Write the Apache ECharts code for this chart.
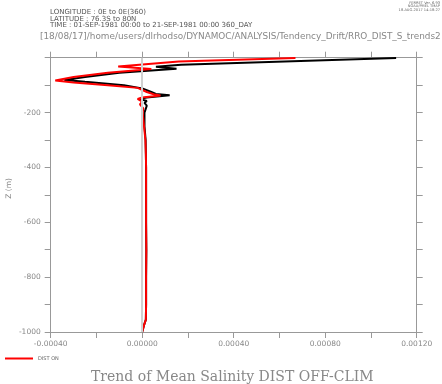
<!DOCTYPE html>
<html>
<head>
<meta charset="utf-8">
<script src="https://cdn.jsdelivr.net/npm/echarts@6/dist/echarts.min.js"></script>
<style>html,body{margin:0;padding:0;background:#fff}#c{width:442px;height:384px}</style>
</head>
<body>
<div id="c"></div>
<script>
// Depth levels (m) and trend values for each run
const depthOff = [-1, -26, -33, -40, -55, -70, -81, -88, -100, -112, -125, -132, -137, -145, -150, -158, -165, -175, -200, -250, -300, -350, -400, -500, -600, -700, -800, -900, -955, -975, -1000];
const distOff  = [0.00111, 0.00017, 0.00006, 0.00015, -0.00010, -0.00025, -0.00034, -0.00025, -0.00008, 0.00000, 0.00004, 0.00006, 0.00012, 0.00002, -0.00001, 0.00002, 0.00001, 0.00002, 0.00001, 0.00001, 0.000015, 0.000016, 0.000017, 0.000017, 0.000017, 0.000018, 0.000017, 0.000017, 0.000016, 0.000008, 0.00000];
const depthOn  = [-1, -14, -32, -41, -55, -70, -83, -90, -100, -110, -125, -133, -138, -145, -150, -160, -170, -185, -200, -250, -300, -350, -400, -500, -600, -700, -800, -900, -955, -975, -1000];
const distOn   = [0.00067, 0.00016, -0.000105, 0.00004, -0.00015, -0.00030, -0.00038, -0.00030, -0.00015, -0.00002, 0.00002, 0.00005, 0.00008, 0.00000, -0.00002, 0.00000, -0.00001, 0.000005, 0.000002, 0.000008, 0.000014, 0.000016, 0.000017, 0.000017, 0.000017, 0.000018, 0.000017, 0.000017, 0.000016, 0.000008, 0.00000];
const xTicks = [-0.0004, 0.0000, 0.0004, 0.0008, 0.0012];
const yTicks = [-1000, -800, -600, -400, -200, 0];
const headerLines = ['LONGITUDE : 0E to 0E(360)', 'LATITUDE : 76.3S to 80N', 'TIME : 01-SEP-1981 00:00 to 21-SEP-1981 00:00 360_DAY'];
const pathLine = '[18/08/17]/home/users/dlrhodso/DYNAMOC/ANALYSIS/Tendency_Drift/RRO_DIST_S_trends2';
const stampLines = ['FERRET Ver. 6.93', 'NOAA/PMEL TMAP', '18-AUG-2017 14:18:27'];
const titleText = 'Trend of Mean Salinity DIST OFF-CLIM';

const chart = echarts.init(document.getElementById('c'), null, {renderer: 'canvas'});
const axisGray = '#999';
const txtGray = '#888';
const pair = (xs, ys) => xs.map((v, i) => [v, ys[i]]);

const xBase = {
  type: 'value', min: xTicks[0], max: xTicks[xTicks.length - 1], interval: 0.0004,
  axisLine: {show: true, onZero: false, lineStyle: {color: axisGray, width: 1}},
  axisTick: {show: true, inside: false, length: 6, lineStyle: {color: axisGray}},
  minorTick: {show: true, splitNumber: 2, length: 6, lineStyle: {color: axisGray}},
  splitLine: {show: false}
};
const yBase = {
  type: 'value', min: yTicks[0], max: yTicks[yTicks.length - 1], interval: 200,
  axisLine: {show: true, onZero: false, lineStyle: {color: axisGray, width: 1}},
  axisTick: {show: true, inside: false, length: 6, lineStyle: {color: axisGray}},
  minorTick: {show: true, splitNumber: 2, length: 6, lineStyle: {color: axisGray}},
  splitLine: {show: false}
};

const graphics = [];
headerLines.forEach((t, i) => graphics.push({type: 'text', left: 50, top: 9 + i * 6.3,
  style: {text: t, fill: '#555', font: '7px "DejaVu Sans"'}}));
graphics.push({type: 'text', left: 40, top: 32.5, style: {text: pathLine, fill: txtGray, font: '8.9px "DejaVu Sans"'}});
stampLines.forEach((t, i) => graphics.push({type: 'text', right: 2, top: 1 + i * 3.4,
  style: {text: t, fill: '#666', font: '3.6px "DejaVu Sans"'}}));
graphics.push({type: 'text', left: 91, top: 370,
  style: {text: titleText, fill: txtGray, font: '14px "DejaVu Serif"'}});
graphics.push({type: 'text', rotation: Math.PI / 2, left: 5, top: 178,
  style: {text: 'Z (m)', fill: txtGray, font: '7.5px "DejaVu Sans"'}});

chart.setOption({
  animation: false,
  grid: {left: 50.7, right: 25.3, top: 57.7, bottom: 52},
  legend: {
    data: ['DIST ON'], left: 0, top: 351, icon: 'rect', itemWidth: 28, itemHeight: 2, itemGap: 4,
    textStyle: {color: '#666', fontSize: 5, fontFamily: 'DejaVu Sans'}
  },
  xAxis: [
    Object.assign({}, xBase, {position: 'bottom',
      axisLabel: {show: true, margin: 8, color: txtGray, fontSize: 7.5, fontFamily: 'DejaVu Sans',
        formatter: v => (Math.abs(v) < 1e-12 ? 0 : v).toFixed(5)}}),
    Object.assign({}, xBase, {position: 'top', axisLabel: {show: false}})
  ],
  yAxis: [
    Object.assign({}, yBase, {position: 'left',
      axisLabel: {show: true, margin: 10, color: txtGray, fontSize: 7.5, fontFamily: 'DejaVu Sans',
        formatter: v => (Math.round(v) === 0 ? '' : String(Math.round(v)))}}),
    Object.assign({}, yBase, {position: 'right', axisLabel: {show: false}})
  ],
  series: [
    {
      name: 'DIST OFF', type: 'line', data: pair(distOff, depthOff), xAxisIndex: 0, yAxisIndex: 0,
      showSymbol: false, symbol: 'none', lineStyle: {color: '#000', width: 2}, itemStyle: {color: '#000'},
      markLine: {silent: true, symbol: 'none', label: {show: false},
        lineStyle: {color: '#d0d0d0', width: 2, type: 'solid'}, data: [{xAxis: 0}]}
    },
    {
      name: 'DIST ON', type: 'line', data: pair(distOn, depthOn), xAxisIndex: 0, yAxisIndex: 0,
      showSymbol: false, symbol: 'none', lineStyle: {color: '#ff0000', width: 2}, itemStyle: {color: '#ff0000'}
    }
  ],
  graphic: graphics
});
</script>
</body>
</html>
